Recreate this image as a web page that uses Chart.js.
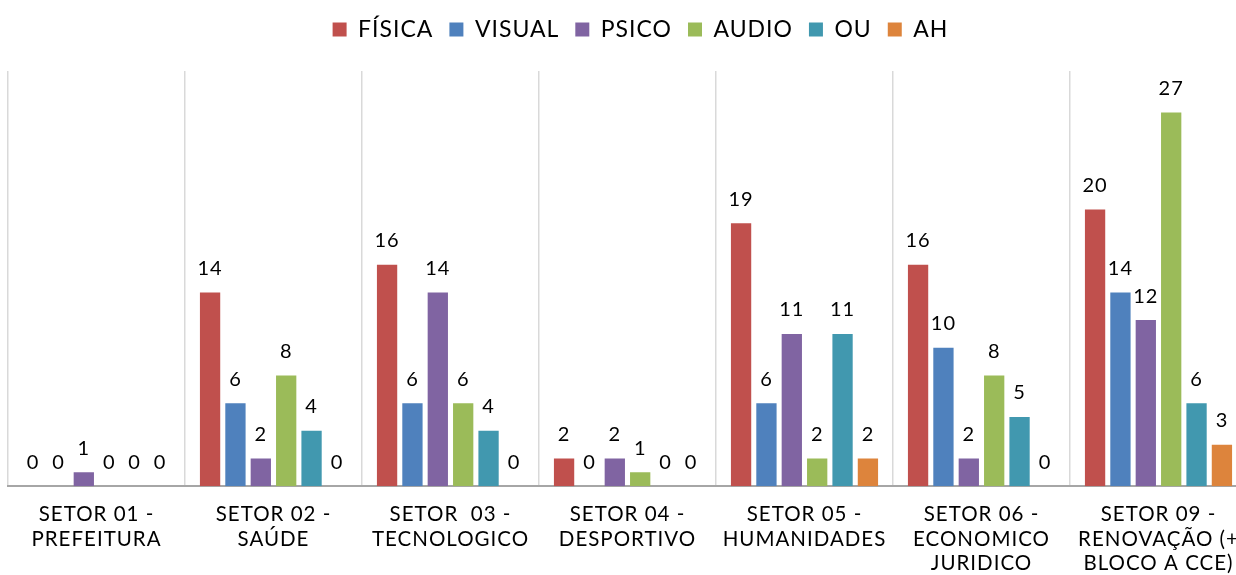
<!DOCTYPE html>
<html>
<head>
<meta charset="utf-8">
<script src="https://cdn.jsdelivr.net/npm/chart.js@4.4.0/dist/chart.umd.min.js"></script>
<style>
  html, body { margin: 0; padding: 0; background: #fff; overflow: hidden; }
  #wrap { width: 1280px; height: 575px; }
</style>
</head>
<body>
<div id="wrap"><canvas id="setorChart" width="1280" height="575"></canvas></div>
<script>
const categories = [
  ['SETOR 01 -', 'PREFEITURA'],
  ['SETOR 02 -', 'SAÚDE'],
  ['SETOR  03 -', 'TECNOLOGICO'],
  ['SETOR 04 -', 'DESPORTIVO'],
  ['SETOR 05 -', 'HUMANIDADES'],
  ['SETOR 06 -', 'ECONOMICO', 'JURIDICO'],
  ['SETOR 09 -', 'RENOVAÇÃO (+', 'BLOCO A CCE)']
];
const fisica = [0, 14, 16, 2, 19, 16, 20];
const visual = [0, 6, 6, 0, 6, 10, 14];
const psico  = [1, 2, 14, 2, 11, 2, 12];
const audio  = [0, 8, 6, 1, 2, 8, 27];
const ou     = [0, 4, 4, 0, 11, 5, 6];
const ah     = [0, 0, 0, 0, 2, 0, 3];

const FONT = 'Lato, "DejaVu Sans", sans-serif';

// value labels above each bar
const barLabels = {
  id: 'barLabels',
  afterDatasetsDraw(chart) {
    const ctx = chart.ctx;
    ctx.save();
    ctx.font = '20px ' + FONT;
    ctx.fillStyle = '#000';
    ctx.textAlign = 'center';
    ctx.textBaseline = 'bottom';
    chart.data.datasets.forEach((ds, i) => {
      chart.getDatasetMeta(i).data.forEach((bar, j) => {
        ctx.fillText(ds.data[j], bar.x, bar.y - 14);
      });
    });
    ctx.restore();
  }
};

const spacing = {
  id: 'spacing',
  beforeDraw(chart) { chart.ctx.letterSpacing = '1px'; }
};

// more room between legend and plot
const legendGap = {
  id: 'legendGap',
  beforeInit(chart) {
    const fit = chart.legend.fit;
    chart.legend.fit = function () {
      fit.bind(chart.legend)();
      this.height += 20;
    };
  }
};

new Chart(document.getElementById('setorChart').getContext('2d'), {
  type: 'bar',
  data: {
    labels: categories,
    datasets: [
      { label: 'FÍSICA', data: fisica, backgroundColor: '#c0504d' },
      { label: 'VISUAL', data: visual, backgroundColor: '#4f81bd' },
      { label: 'PSICO', data: psico, backgroundColor: '#8064a2' },
      { label: 'AUDIO', data: audio, backgroundColor: '#9bbb59' },
      { label: 'OU', data: ou, backgroundColor: '#4198af' },
      { label: 'AH', data: ah, backgroundColor: '#dd843c' }
    ]
  },
  options: {
    responsive: false,
    animation: false,
    layout: { padding: { left: 8, right: 33, top: 2, bottom: -17 } },
    datasets: { bar: { categoryPercentage: 0.86, barPercentage: 0.8 } },
    plugins: {
      legend: {
        position: 'top',
        labels: {
          boxWidth: 14,
          boxHeight: 14,
          padding: 16,
          color: '#000',
          font: { family: FONT, size: 23 }
        }
      },
      tooltip: { enabled: false }
    },
    scales: {
      x: {
        grid: { color: '#d9d9d9', lineWidth: 1.5, drawTicks: false, offset: true },
        border: { color: '#a6a6a6', width: 2 },
        ticks: {
          color: '#000',
          padding: 16,
          maxRotation: 0,
          autoSkip: false,
          font: { family: FONT, size: 20.5, lineHeight: 1.2 }
        }
      },
      y: {
        display: false,
        min: 0,
        max: 30
      }
    }
  },
  plugins: [spacing, legendGap, barLabels]
});
</script>
</body>
</html>
